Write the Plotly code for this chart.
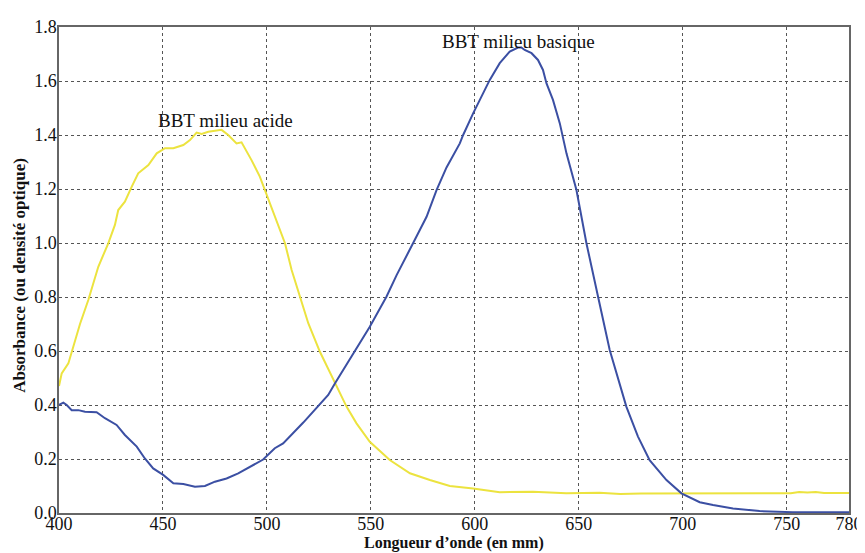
import plotly.graph_objects as go

# BBT milieu acide (yellow)
acid_x = [400, 401.3, 404.5, 410.1, 414.1, 418.9, 423.7, 426.9, 428.5, 431.7, 435, 438.1, 443, 447,
          451, 455, 459.8, 463, 466.2, 468.6, 471.8, 478.2, 481.4, 485.4, 487.8, 492.6, 496.6, 499.9,
          504.7, 508.7, 511.9, 515.9, 519.9, 525.5, 532.7, 538.3, 543.1, 549.5, 559.1, 568.8, 578.4,
          588, 599.2, 612, 628, 644, 660, 670, 680, 700, 720, 740, 752, 756, 760, 764, 768, 780]
acid_y = [0.47, 0.517, 0.554, 0.70, 0.789, 0.912, 0.999, 1.067, 1.122, 1.153, 1.209, 1.258, 1.289, 1.332,
          1.351, 1.351, 1.363, 1.381, 1.409, 1.404, 1.412, 1.419, 1.40, 1.369, 1.373, 1.307, 1.246, 1.178,
          1.085, 0.999, 0.90, 0.801, 0.703, 0.597, 0.48, 0.394, 0.332, 0.264, 0.196, 0.147, 0.122,
          0.10, 0.091, 0.077, 0.079, 0.073, 0.075, 0.070, 0.072, 0.073, 0.073, 0.073, 0.073, 0.078, 0.076, 0.078, 0.074, 0.074]

# BBT milieu basique (blue)
base_x = [400, 402.1, 403.7, 406.1, 409.3, 412.5, 418.1, 422.1, 427.7, 431.7, 437.4, 441.3, 445.3, 450.1,
          455, 459.8, 465.4, 470.2, 475, 480.6, 486.2, 491.8, 498.2, 503.8, 507.8, 517.5, 529.5, 532.7,
          541.5, 549.5, 557.5, 562.4, 570.3, 576.8, 581.6, 586.4, 592.8, 594.4, 599.2, 602.4, 607.2,
          612, 616.8, 620.8, 622.4, 624, 627.3, 630.4, 632.8, 634.5, 637.6, 640.9, 644.1, 648.9, 653.7,
          659.3, 664.9, 672.9, 678.5, 684.1, 692.2, 699.4, 708.2, 714.6, 724.2, 737, 753, 780]
base_y = [0.40, 0.409, 0.40, 0.381, 0.381, 0.375, 0.373, 0.351, 0.326, 0.289, 0.246, 0.202, 0.165, 0.141,
          0.11, 0.107, 0.097, 0.10, 0.116, 0.128, 0.147, 0.171, 0.198, 0.240, 0.258, 0.335, 0.437, 0.48,
          0.59, 0.69, 0.801, 0.881, 0.999, 1.097, 1.196, 1.28, 1.369, 1.40, 1.48, 1.53, 1.604,
          1.666, 1.709, 1.724, 1.724, 1.715, 1.703, 1.678, 1.641, 1.591, 1.53, 1.443, 1.332, 1.196, 0.999,
          0.801, 0.604, 0.394, 0.283, 0.196, 0.122, 0.073, 0.040, 0.030, 0.017, 0.007, 0.003, 0.003]

x_ticks = [400, 450, 500, 550, 600, 650, 700, 750, 780]
y_ticks = [0.0, 0.2, 0.4, 0.6, 0.8, 1.0, 1.2, 1.4, 1.6, 1.8]
y_tick_text = ["0.0", "0.2", "0.4", "0.6", "0.8", "1.0", "1.2", "1.4", "1.6", "1.8"]

SERIF = "Liberation Serif"

fig = go.Figure()
fig.add_trace(go.Scatter(x=acid_x, y=acid_y, mode="lines", name="BBT milieu acide",
                         line=dict(color="#ECE33F", width=2)))
fig.add_trace(go.Scatter(x=base_x, y=base_y, mode="lines", name="BBT milieu basique",
                         line=dict(color="#3B4FA3", width=2)))

fig.add_annotation(x=480, y=1.452, text="BBT milieu acide", showarrow=False,
                   font=dict(family=SERIF, size=19, color="#111"))
fig.add_annotation(x=621, y=1.748, text="BBT milieu basique", showarrow=False,
                   font=dict(family=SERIF, size=19, color="#111"))

# axis titles placed as annotations (paper coordinates)
fig.add_annotation(xref="paper", yref="paper", x=0.5, y=-0.0823, xanchor="center", yanchor="bottom",
                   text="<b>Longueur d’onde (en mm)</b>", showarrow=False, borderpad=0,
                   font=dict(family=SERIF, size=16, color="#111"))
fig.add_annotation(xref="paper", yref="paper", x=-0.0494, y=0.49, xanchor="center", yanchor="middle",
                   textangle=-90, text="<b>Absorbance (ou densité optique)</b>", showarrow=False,
                   font=dict(family=SERIF, size=17, color="#111"))

# page body has an 8px margin: figure is 857x545 so that it fills the 865x553 window
fig.update_layout(
    width=857, height=545,
    margin=dict(l=51, r=16, t=19, b=40, autoexpand=False),
    paper_bgcolor="white", plot_bgcolor="white",
    showlegend=False,
    font=dict(family=SERIF, size=18, color="#111"),
    xaxis=dict(range=[400, 780], tickvals=x_ticks, ticktext=[str(v) for v in x_ticks],
               showgrid=True, gridcolor="#555", griddash="dot", gridwidth=1,
               showline=True, linecolor="#666", linewidth=1.5, mirror=True,
               zeroline=False, ticks="", ticklabelstandoff=-6, automargin=False,
               tickfont=dict(family=SERIF, size=18, color="#111")),
    yaxis=dict(range=[0, 1.8], tickvals=y_ticks, ticktext=y_tick_text,
               showgrid=True, gridcolor="#555", griddash="dot", gridwidth=1,
               showline=True, linecolor="#666", linewidth=1.5, mirror=True,
               zeroline=False, ticks="", ticklabelstandoff=-3, automargin=False,
               tickfont=dict(family=SERIF, size=18, color="#111")),
)

fig.write_html("out.html")
